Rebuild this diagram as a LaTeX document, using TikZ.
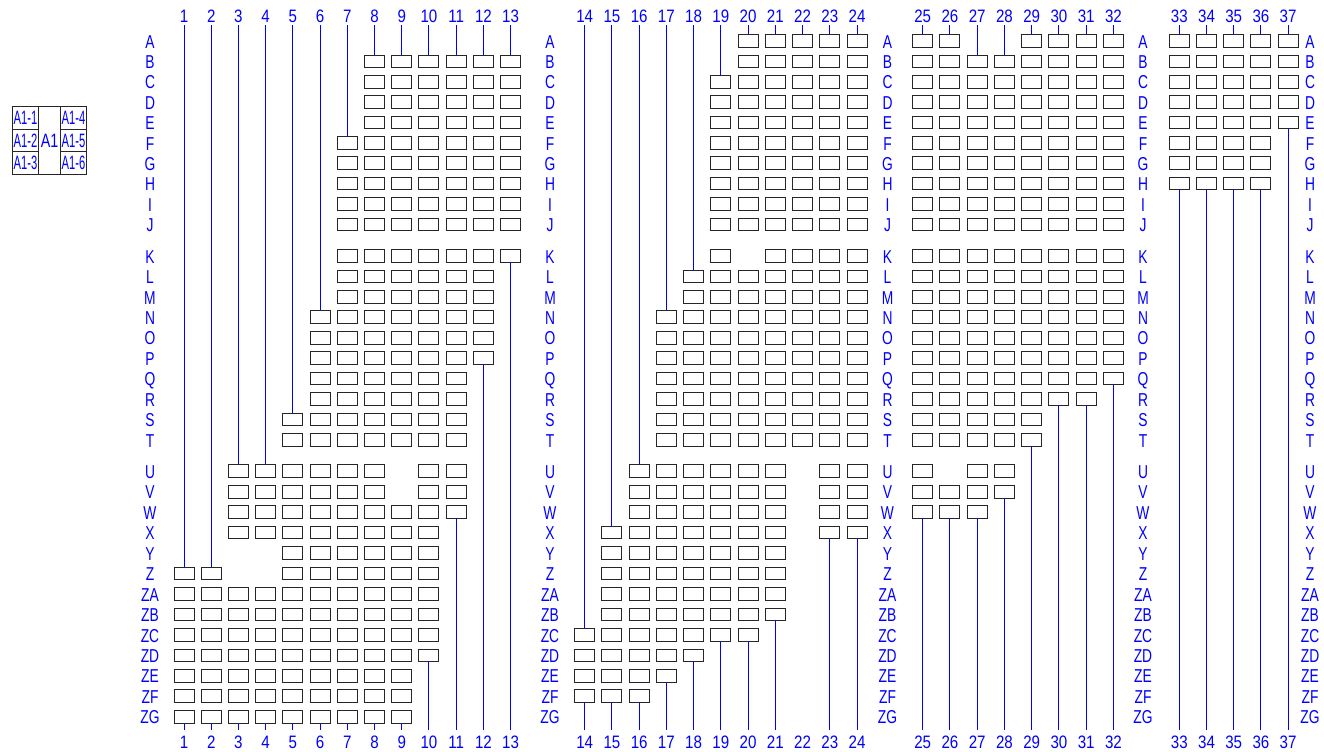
\documentclass[tikz,border=0pt]{standalone}
\usepackage{fontspec}
\usepackage{xcolor}
\usetikzlibrary{positioning}
\newfontfamily\rowfont[FakeStretch=0.74]{Liberation Sans}
\newfontfamily\colfont[FakeStretch=0.84]{Liberation Sans}
\newfontfamily\legendfont[FakeStretch=0.58]{Liberation Sans}
\tikzstyle{cell}     = [rectangle, draw=black!85, line width=.75pt, inner sep=0pt,
    minimum width=15pt, minimum height=9.5pt]
\tikzstyle{rowlabel} = [text=blue, inner sep=0pt, font=\rowfont\fontsize{14}{15}\selectfont,
    text height=10pt, text depth=0pt]
\tikzstyle{toplabel} = [rowlabel, font=\colfont\fontsize{13.5}{15}\selectfont, minimum height=13pt]
\tikzstyle{botlabel} = [rowlabel, font=\colfont\fontsize{13.5}{15}\selectfont, minimum height=17pt]
\tikzstyle{wire}     = [blue, line width=.75pt]
\tikzstyle{legcell}  = [rectangle, draw=black!85, line width=.75pt, inner sep=0pt, outer sep=0pt,
    text=blue, minimum width=19pt, minimum height=16.9pt,
    font=\legendfont\fontsize{14.5}{15}\selectfont]
\tikzstyle{legmid}   = [legcell, minimum width=17pt, minimum height=50.7pt,
    font=\rowfont\fontsize{14.5}{15}\selectfont]

\begin{document}
\begin{tikzpicture}[x=.75pt, y=-.75pt,
    declare function={
      colx(\k)=\k<14 ? 184+27.22*(\k-1) : (\k<25 ? 584.7+27.23*(\k-14) : (\k<33 ? 922.7+27.25*(\k-25) : 1179.3+27.2*(\k-33)));
      rowy(\k)=\k<10 ? 41+20.37*\k : (\k<20 ? 256+20.44*(\k-10) : 471.3+20.45*(\k-20));
    }]
  \useasboundingbox (0,0) rectangle (1324,751);

  % Legend
  \node[legmid] (legA) at (49.5,140.5) {A1};
  \node[legcell, left=0pt of legA.north west, anchor=north east] (leg1) {A1-1};
  \node[legcell, below=0pt of leg1] (leg2) {A1-2};
  \node[legcell, below=0pt of leg2] (leg3) {A1-3};
  \node[legcell, right=0pt of legA.north east, anchor=north west] (leg4) {A1-4};
  \node[legcell, below=0pt of leg4] (leg5) {A1-5};
  \node[legcell, below=0pt of leg5] (leg6) {A1-6};

  % Row letters
  \foreach \lblx [count=\n] in {150,550,887.5,1143,1310}
    \foreach \rowname [count=\row from 0] in {A,B,C,D,E,F,G,H,I,J,K,L,M,N,O,P,Q,R,S,T,U,V,W,X,Y,Z,ZA,ZB,ZC,ZD,ZE,ZF,ZG}
      \node[rowlabel] (lab\n-\rowname) at (\lblx,{rowy(\row)+.5}) {\rowname};

  % Columns: number / first row / last row / gap from / gap to
  \foreach \col/\first/\last/\gapa/\gapb in {
      1/25/32/99/99, 2/25/32/99/99, 3/20/32/24/25, 4/20/32/24/25, 5/18/32/99/99,
      6/13/32/99/99, 7/5/32/99/99, 8/1/32/99/99, 9/1/32/20/21, 10/1/29/99/99,
      11/1/22/99/99, 12/1/15/99/99, 13/1/10/99/99,
      14/28/31/99/99, 15/23/31/99/99, 16/20/31/99/99, 17/13/30/99/99, 18/11/29/99/99,
      19/2/28/99/99, 20/0/28/10/10, 21/0/27/99/99, 22/0/19/99/99, 23/0/23/99/99, 24/0/23/99/99,
      25/0/22/99/99, 26/0/22/20/20, 27/1/22/99/99, 28/1/21/99/99,
      29/0/19/99/99, 30/0/17/99/99, 31/0/17/99/99, 32/0/16/99/99,
      33/0/7/99/99, 34/0/7/99/99, 35/0/7/99/99, 36/0/7/99/99, 37/0/4/99/99} {
    \pgfmathsetmacro\cx{colx(\col)}
    \node[toplabel] (top\col) at (\cx,16.3) {\col};
    \node[botlabel] (bot\col) at (\cx,741.5) {\col};
    \foreach \row in {\first,...,\last} {
      \pgfmathtruncatemacro\isgap{and(\row>=\gapa,\row<=\gapb)}
      \ifnum\isgap=0
        \node[cell] (b\col-\row) at (\cx,{rowy(\row)}) {};
      \fi
    }
    \draw[wire] (top\col.south) -- (b\col-\first.north);
    \ifnum\col=22 \else
      \draw[wire] (b\col-\last.south) -- (bot\col.north);
    \fi
  }
\end{tikzpicture}
\end{document}
